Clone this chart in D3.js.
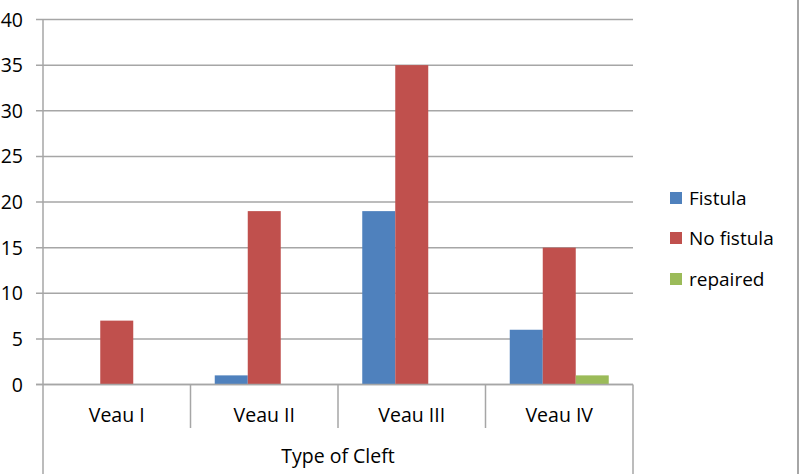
<!DOCTYPE html>
<html><head><meta charset="utf-8">
<script src="https://cdn.jsdelivr.net/npm/d3@7"></script>
<style>body{margin:0;background:#fff;}svg{display:block;font-family:"Open Sans",sans-serif;}</style>
</head><body>
<svg id="c" width="800" height="474"></svg>
<script>
const categories = ["Veau I", "Veau II", "Veau III", "Veau IV"];
const seriesNames = ["Fistula", "No fistula", "repaired"];
const fistula = [0, 1, 19, 6];
const noFistula = [7, 19, 35, 15];
const repaired = [0, 0, 0, 1];
const yTicks = [0, 5, 10, 15, 20, 25, 30, 35, 40];
const colors = ["#4F81BD", "#C0504D", "#9BBB59"];
const axisTitle = "Type of Cleft";

const seriesValues = [fistula, noFistula, repaired];
const svg = d3.select("#c");
const L = 43, R = 633, T = 19.5, B = 384.5;
const y = d3.scaleLinear().domain([0, 40]).range([B, T]);
const x0 = d3.scaleBand().domain(categories).range([L, R]).padding(0);
const bw = x0.bandwidth();
const x1 = d3.scaleBand().domain(seriesNames).range([bw * 0.1644, bw * 0.8356]).padding(0);
const grid = "#A6A6A6";

svg.append("g").selectAll("line").data(yTicks).join("line")
  .attr("x1", L - 7).attr("x2", R).attr("y1", d => y(d)).attr("y2", d => y(d))
  .attr("stroke", grid).attr("stroke-width", 1.5);
svg.append("g").selectAll("text").data(yTicks).join("text")
  .attr("x", 23).attr("y", d => y(d)).attr("dy", "0.36em").attr("text-anchor", "end")
  .attr("font-size", 19.5).attr("fill", "#000").text(d => d);

const g = svg.append("g");
categories.forEach((c, i) => {
  seriesNames.forEach((s, j) => {
    const v = seriesValues[j][i];
    if (v > 0) {
      g.append("rect").attr("x", x0(c) + x1(s)).attr("width", x1.bandwidth())
        .attr("y", y(v)).attr("height", y(0) - y(v)).attr("fill", colors[j]);
    }
  });
});

svg.append("line").attr("x1", L).attr("x2", L).attr("y1", T).attr("y2", 474).attr("stroke", grid).attr("stroke-width", 1.5);
svg.append("line").attr("x1", R).attr("x2", R).attr("y1", B).attr("y2", 474).attr("stroke", grid).attr("stroke-width", 1.5);
svg.append("line").attr("x1", L - 7).attr("x2", R).attr("y1", B).attr("y2", B).attr("stroke", grid).attr("stroke-width", 1.5);
svg.append("g").selectAll("line").data(categories.slice(1)).join("line")
  .attr("x1", d => x0(d)).attr("x2", d => x0(d)).attr("y1", B).attr("y2", 428)
  .attr("stroke", grid).attr("stroke-width", 1.5);
svg.append("g").selectAll("text").data(categories).join("text")
  .attr("x", d => x0(d) + bw / 2).attr("y", 422).attr("text-anchor", "middle")
  .attr("font-size", 19.5).attr("fill", "#000").text(d => d);
svg.append("text").attr("x", (L + R) / 2).attr("y", 463).attr("text-anchor", "middle")
  .attr("font-size", 19.5).attr("fill", "#000").text(axisTitle);

svg.append("line").attr("x1", 798).attr("x2", 798).attr("y1", 0).attr("y2", 474).attr("stroke", "#A6A6A6").attr("stroke-width", 2);

const legY = [198, 238, 279];
const lg = svg.append("g");
seriesNames.forEach((s, j) => {
  lg.append("rect").attr("x", 670).attr("y", legY[j] - 6).attr("width", 12).attr("height", 12).attr("fill", colors[j]);
  lg.append("text").attr("x", 689).attr("y", legY[j]).attr("dy", "0.36em").attr("font-size", 19).attr("fill", "#000").text(s);
});
</script>
</body></html>
